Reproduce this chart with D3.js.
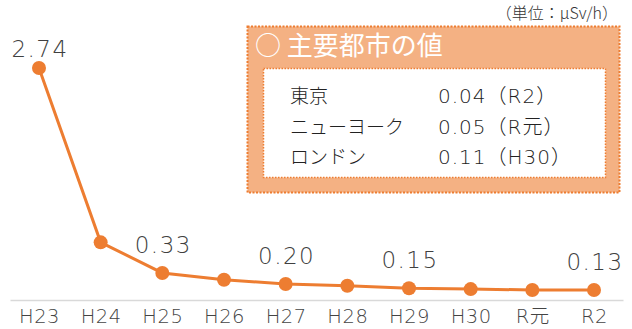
<!DOCTYPE html>
<html>
<head>
<meta charset="utf-8">
<script src="https://cdn.jsdelivr.net/npm/d3@7/dist/d3.min.js"></script>
<style>
  body { margin: 0; background: #fff; }
  text { font-family: "Noto Sans CJK JP", "Noto Sans", sans-serif; }
  .num { font-family: "DejaVu Sans", "Noto Sans CJK JP", sans-serif; font-weight: 200; }
</style>
</head>
<body>
<div id="chart"></div>
<script>
var years = ["H23", "H24", "H25", "H26", "H27", "H28", "H29", "H30", "R元", "R2"];
var values = [2.74, 0.69, 0.33, 0.25, 0.20, 0.18, 0.15, 0.14, 0.13, 0.13];
var labelled = ["H23", "H25", "H27", "H29", "R2"];

var cities = ["東京", "ニューヨーク", "ロンドン"];
var cityValues = ["0.04（R2）", "0.05（R元）", "0.11（H30）"];

var totalWidth = 632, totalHeight = 329;
var orange = "#ED7D31";

var svg = d3.select("#chart").append("svg")
  .attr("width", totalWidth)
  .attr("height", totalHeight);

var xScale = d3.scalePoint()
  .domain(years)
  .range([10, 623])
  .padding(0.47);

var yScale = d3.scaleLinear()
  .domain([0, 2.74])
  .range([301, 68]);

// x axis
var xAxis = d3.axisBottom(xScale).tickSize(0).tickSizeOuter(0).tickPadding(9);
var xg = svg.append("g")
  .attr("transform", "translate(0," + 300 + ")")
  .call(xAxis);
xg.select(".domain").attr("stroke", "#d9d9d9").attr("stroke-width", 1.5);
xg.selectAll(".tick text")
  .attr("class", "num")
  .attr("fill", "#444")
  .style("font-size", "19.5px")
  .style("letter-spacing", "0.5px");

// line
var line = d3.line()
  .x(function (d, i) { return xScale(years[i]); })
  .y(function (d) { return yScale(d); });

svg.append("path")
  .datum(values)
  .attr("d", line)
  .attr("fill", "none")
  .attr("stroke", orange)
  .attr("stroke-width", 3);

svg.selectAll("circle.pt")
  .data(values)
  .enter()
  .append("circle")
  .attr("class", "pt")
  .attr("cx", function (d, i) { return xScale(years[i]); })
  .attr("cy", function (d) { return yScale(d); })
  .attr("r", 7)
  .attr("fill", orange);

// data labels
svg.selectAll("text.lbl")
  .data(values.filter(function (d, i) { return labelled.indexOf(years[i]) >= 0; }))
  .enter()
  .append("text")
  .attr("class", "lbl num")
  .attr("x", function (d, i) { return xScale(labelled[i]) + 1; })
  .attr("y", function (d, i) { return yScale(d) - (i === 0 ? 11 : 20); })
  .attr("text-anchor", "middle")
  .attr("fill", "#404040")
  .style("font-size", "23px")
  .style("letter-spacing", "1.5px")
  .text(function (d) { return d.toFixed(2); });

// unit
svg.append("text")
  .attr("x", 618)
  .attr("y", 19)
  .attr("text-anchor", "end")
  .attr("fill", "#333")
  .style("font-size", "16px")
  .style("font-weight", 300)
  .text("（単位：μSv/h）");

// info box
var box = svg.append("g");
box.append("rect")
  .attr("x", 247.5).attr("y", 26.5)
  .attr("width", 372).attr("height", 166)
  .attr("fill", "#F4B183")
  .attr("stroke", orange)
  .attr("stroke-width", 2)
  .attr("stroke-dasharray", "2,1.5");

box.append("text")
  .attr("x", 255)
  .attr("y", 55)
  .attr("fill", "#fff")
  .style("font-size", "26px")
  .style("font-weight", 400)
  .text("○ 主要都市の値");

box.append("rect")
  .attr("x", 263.5).attr("y", 68.5)
  .attr("width", 342).attr("height", 109)
  .attr("fill", "#fff")
  .attr("stroke", orange)
  .attr("stroke-width", 1.5)
  .attr("stroke-dasharray", "1.5,1.5");

box.selectAll("text.city")
  .data(cities)
  .enter()
  .append("text")
  .attr("class", "city")
  .attr("x", 290)
  .attr("y", function (d, i) { return 103 + i * 30.5; })
  .attr("fill", "#222")
  .style("font-size", "19px")
  .style("font-weight", 300)
  .text(function (d) { return d; });

box.selectAll("text.cval")
  .data(cityValues)
  .enter()
  .append("text")
  .attr("class", "cval num")
  .attr("x", 438)
  .attr("y", function (d, i) { return 103 + i * 30.5; })
  .attr("fill", "#222")
  .style("font-size", "20px")
  .style("letter-spacing", "1px")
  .text(function (d) { return d; });
</script>
</body>
</html>
